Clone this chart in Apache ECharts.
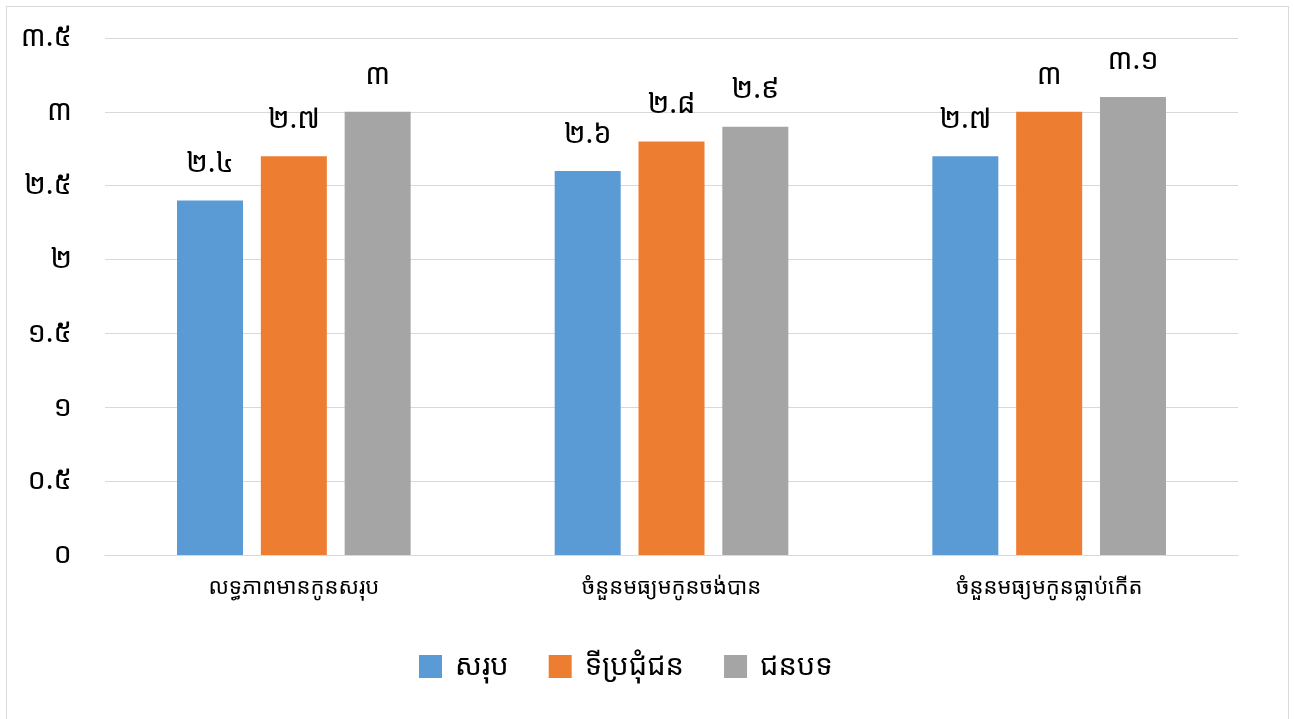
<!DOCTYPE html>
<html>
<head>
<meta charset="utf-8">
<script src="https://cdn.jsdelivr.net/npm/echarts@6/dist/echarts.min.js"></script>
<style>
  html, body { margin: 0; padding: 0; background: #fff; }
  #frame { position: absolute; left: 6px; top: 6px; width: 1283px; height: 720px; border: 1px solid #d9d9d9; box-sizing: border-box; }
  #chart { position: absolute; left: 0; top: 0; width: 1295px; height: 719px; }
</style>
</head>
<body>
<div id="frame"></div>
<div id="chart"></div>
<script>
// Categories and series values
const categories = ['លទ្ធភាពមានកូនសរុប', 'ចំនួនមធ្យមកូនចង់បាន', 'ចំនួនមធ្យមកូនធ្លាប់កើត'];
const seriesNames = ['សរុប', 'ទីប្រជុំជន', 'ជនបទ'];
const totalValues = [2.4, 2.6, 2.7];
const urbanValues = [2.7, 2.8, 3.0];
const ruralValues = [3.0, 2.9, 3.1];
const colors = ['#5b9bd5', '#ed7d31', '#a5a5a5'];

// Khmer digits for tick labels and value labels
const khmerDigits = ['០', '១', '២', '៣', '៤', '៥', '៦', '៧', '៨', '៩'];
function toKhmer(v) {
  const s = String(Math.round(v * 10) / 10);
  return s.replace(/[0-9]/g, d => khmerDigits[+d]);
}

const FONT = "'Noto Sans Khmer', 'Khmer OS', 'Noto Sans', sans-serif";

const chart = echarts.init(document.getElementById('chart'));
const makeSeries = (name, data, color) => ({
  name: name,
  type: 'bar',
  data: data,
  barWidth: 66,
  barGap: '27%',
  itemStyle: { color: color },
  label: {
    show: true,
    position: 'top',
    distance: 22,
    fontFamily: FONT,
    fontSize: 29,
    color: '#000',
    formatter: p => toKhmer(p.value)
  }
});

chart.setOption({
  animation: false,
  textStyle: { fontFamily: FONT },
  grid: { left: 105, right: 57, top: 38, bottom: 164, containLabel: false },
  legend: {
    data: seriesNames,
    top: 647,
    left: 414,
    itemWidth: 23,
    itemHeight: 23,
    itemGap: 40,
    icon: 'rect',
    textStyle: { fontFamily: FONT, fontSize: 29, color: '#000', padding: [0, 0, 0, 8] }
  },
  xAxis: {
    type: 'category',
    data: categories,
    axisLine: { lineStyle: { color: '#d9d9d9', width: 1 } },
    axisTick: { show: false },
    axisLabel: { fontFamily: FONT, fontSize: 22, color: '#000', margin: 22 }
  },
  yAxis: {
    type: 'value',
    min: 0,
    max: 3.5,
    interval: 0.5,
    axisLine: { show: false },
    axisTick: { show: false },
    splitLine: { lineStyle: { color: '#d9d9d9', width: 1 } },
    axisLabel: { fontFamily: FONT, fontSize: 29, color: '#000', margin: 33, formatter: v => toKhmer(v) }
  },
  series: [
    makeSeries(seriesNames[0], totalValues, colors[0]),
    makeSeries(seriesNames[1], urbanValues, colors[1]),
    makeSeries(seriesNames[2], ruralValues, colors[2])
  ]
});
</script>
</body>
</html>
